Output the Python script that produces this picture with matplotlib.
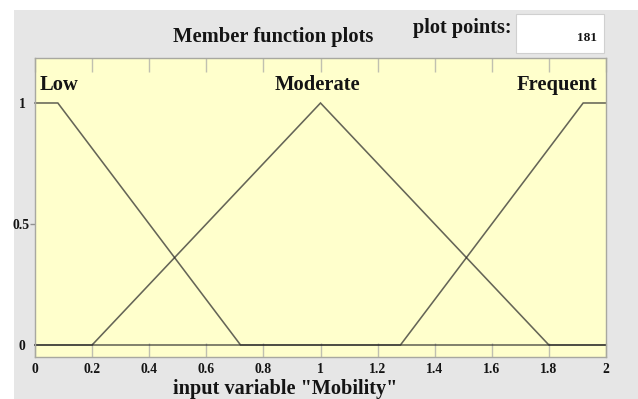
import matplotlib
matplotlib.use("Agg")
import matplotlib.pyplot as plt
from matplotlib.patches import Rectangle
from matplotlib.transforms import ScaledTranslation

# Membership function vertices for the input variable "Mobility"
low_x = [0.0, 0.08, 0.72, 2.0]
low_y = [1.0, 1.0, 0.0, 0.0]
moderate_x = [0.0, 0.2, 1.0, 1.8, 2.0]
moderate_y = [0.0, 0.0, 1.0, 0.0, 0.0]
frequent_x = [0.0, 1.28, 1.92, 2.0]
frequent_y = [0.0, 0.0, 1.0, 1.0]

mf_names = ["Low", "Moderate", "Frequent"]
x_ticks = [0, 0.2, 0.4, 0.6, 0.8, 1.0, 1.2, 1.4, 1.6, 1.8, 2.0]
x_tick_labels = ["0", "0.2", "0.4", "0.6", "0.8", "1", "1.2", "1.4", "1.6", "1.8", "2"]
y_ticks = [0, 0.5, 1]
y_tick_labels = ["0", "0.5", "1"]
plot_points = 181

W, H = 638, 399
DPI = 100
SERIF = ["Liberation Serif", "DejaVu Serif"]
TXT = "#141414"

fig = plt.figure(figsize=(W / DPI, H / DPI), dpi=DPI, facecolor="white")

def fx(px):
    return px / W

def fy(py):
    return 1 - py / H

# grey panel behind everything
fig.patches.append(Rectangle((fx(14), 0), 1 - fx(14), fy(9.5), transform=fig.transFigure,
                             facecolor="#e6e6e6", edgecolor="none", zorder=-10))

ax = fig.add_axes([fx(35), fy(357), fx(606) - fx(35), fy(57.5) - fy(357)])
ax.set_zorder(1)
ax.set_facecolor("#ffffcc")
ax.set_xlim(0, 2)
ax.set_ylim(-0.0496, 1.188)

# translucent strokes so the shared zero baseline builds up darker
line_kw = dict(color="#2a2a2a", alpha=0.72, lw=1.15, solid_joinstyle="miter", clip_on=False)
ax.plot(low_x, low_y, **line_kw)
ax.plot(moderate_x, moderate_y, **line_kw)
ax.plot(frequent_x, frequent_y, **line_kw)

# labels of the membership functions
lab_kw = dict(fontsize=14.8, fontweight="bold", family=SERIF, color=TXT, va="baseline")
ax.text(0.015, 1.054, mf_names[0], ha="left", **lab_kw)
ax.text(0.99, 1.054, mf_names[1], ha="center", **lab_kw)
ax.text(1.969, 1.054, mf_names[2], ha="right", **lab_kw)

for s in ax.spines.values():
    s.set_color("#a8a8a0")
    s.set_linewidth(1.0)

ax.set_xticks(x_ticks)
ax.set_xticklabels(x_tick_labels)
ax.set_yticks(y_ticks)
ax.set_yticklabels(y_tick_labels)
ax.tick_params(axis="x", direction="in", length=10, width=1, color="#c0c0b0",
               top=True, bottom=True, pad=4.5, labelsize=9.8)
ax.tick_params(axis="y", direction="out", length=3.5, width=1, color="#909090",
               left=True, right=False, pad=0.5, labelsize=9.8)
for lab in ax.get_xticklabels() + ax.get_yticklabels():
    lab.set_fontfamily(SERIF)
    lab.set_fontweight("bold")
    lab.set_color(TXT)

# 0 and 1 labels sit a little further out, without a tick mark
yt = ax.yaxis.get_major_ticks()
for i in (0, 2):
    yt[i].tick1line.set_visible(False)
    lab = yt[i].label1
    lab.set_transform(lab.get_transform() + ScaledTranslation(-4 / DPI, 0, fig.dpi_scale_trans))

# heading, plot-point box and axis caption
fig.text(fx(273.3), fy(41.7), "Member function plots", ha="center", va="baseline",
         fontsize=14.8, fontweight="bold", family=SERIF, color=TXT)
fig.text(fx(412.7), fy(33), "plot points:", ha="left", va="baseline",
         fontsize=14.6, fontweight="bold", family=SERIF, color=TXT)
fig.patches.append(Rectangle((fx(516), fy(52.7)), fx(604) - fx(516), fy(14.3) - fy(52.7),
                             transform=fig.transFigure, facecolor="white",
                             edgecolor="#d0d0d0", lw=0.8, zorder=1))
fig.text(fx(596.7), fy(41), str(plot_points), ha="right", va="baseline",
         fontsize=9.5, fontweight="bold", family=SERIF, color=TXT, zorder=2)
fig.text(fx(285), fy(394), 'input variable "Mobility"', ha="center", va="baseline",
         fontsize=14.6, fontweight="bold", family=SERIF, color=TXT)

fig.savefig("out.png", dpi=DPI, facecolor="white")
